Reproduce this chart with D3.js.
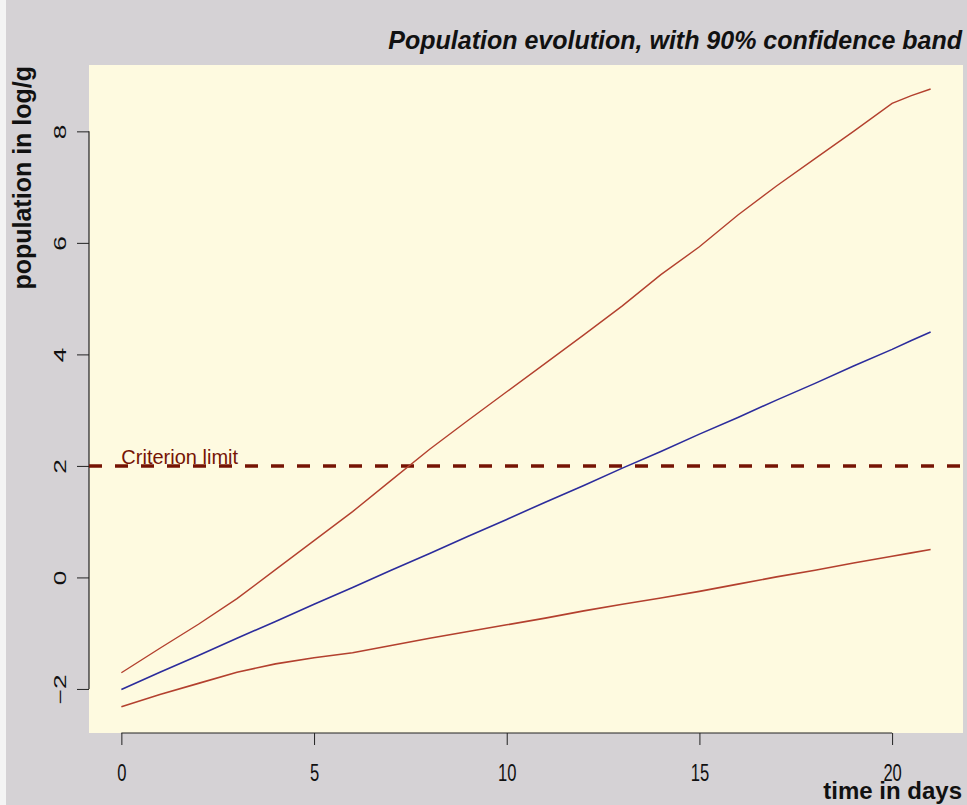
<!DOCTYPE html>
<html>
<head>
<meta charset="utf-8">
<script src="https://d3js.org/d3.v7.min.js"></script>
<style>
  body { margin: 0; background: #d5d2d5; }
  svg { display: block; }
  .tick text { font-family: "Liberation Sans", Arial, sans-serif; fill: #111; }
</style>
</head>
<body>
<div id="chart"></div>
<script>
// days 0..21 (one reading per day, plus a half-day near the end of the upper band)
var days      = [0,1,2,3,4,5,6,7,8,9,10,11,12,13,14,15,16,17,18,19,20,20.5,21];
var upperBand = [-1.71,-1.27,-0.84,-0.38,0.14,0.66,1.18,1.74,2.30,2.82,3.33,3.84,4.35,4.87,5.43,5.93,6.50,7.02,7.51,8.00,8.50,8.64,8.76];
var meanLine  = [-2.01,-1.70,-1.40,-1.09,-0.79,-0.48,-0.18,0.13,0.43,0.74,1.04,1.35,1.65,1.96,2.26,2.57,2.87,3.18,3.48,3.79,4.09,4.25,4.40];
var lowerBand = [-2.32,-2.10,-1.90,-1.70,-1.55,-1.44,-1.35,-1.22,-1.09,-0.97,-0.85,-0.73,-0.60,-0.48,-0.37,-0.25,-0.12,0.01,0.13,0.26,0.38,0.44,0.50];
var xTicks = [0,5,10,15,20];
var yTicks = [-2,0,2,4,6,8];
var criterion = 2;

var width = 967, height = 805;
var margin = {top: 65, right: 4, bottom: 72, left: 89};
var w = width - margin.left - margin.right,
    h = height - margin.top - margin.bottom;

var svg = d3.select("#chart").append("svg")
    .attr("width", width)
    .attr("height", height);

svg.append("rect").attr("width", width).attr("height", height).attr("fill", "#d5d2d5");
svg.append("rect").attr("width", 6).attr("height", height).attr("fill", "#f4f4f4");

// R style 4% padding on both axes
var x = d3.scaleLinear().domain([-0.84, 21.84]).range([0, w]);
var y = d3.scaleLinear().domain([-2.79, 9.19]).range([h, 0]);

var g = svg.append("g")
    .attr("transform", "translate(" + margin.left + "," + margin.top + ")");

g.append("rect")
    .attr("width", w)
    .attr("height", h)
    .attr("fill", "#fefae0");

// x axis
var xAxis = g.append("g")
    .attr("transform", "translate(0," + h + ")")
    .call(d3.axisBottom(x).tickValues(xTicks).tickSize(12).tickSizeOuter(0));
xAxis.select(".domain").remove();
xAxis.append("line")
    .attr("x1", x(xTicks[0])).attr("x2", x(xTicks[xTicks.length - 1]))
    .attr("stroke", "#222").attr("stroke-width", 1.2);
xAxis.selectAll(".tick line").attr("stroke", "#222");
xAxis.selectAll(".tick text")
    .attr("dy", null)
    .attr("y", 0)
    .attr("transform", "translate(0,48) scale(0.72,1)")
    .style("font-size", "23px");

// y axis, labels parallel to the axis
var yAxis = g.append("g")
    .call(d3.axisLeft(y).tickValues(yTicks).tickSize(12).tickSizeOuter(0));
yAxis.select(".domain").remove();
yAxis.append("line")
    .attr("y1", y(yTicks[0])).attr("y2", y(yTicks[yTicks.length - 1]))
    .attr("stroke", "#222").attr("stroke-width", 1.2);
yAxis.selectAll(".tick line").attr("stroke", "#222");
yAxis.selectAll(".tick text")
    .attr("x", null).attr("dy", null)
    .attr("text-anchor", "middle")
    .attr("transform", "translate(-23,0) rotate(-90) scale(1.25,0.8)")
    .style("font-size", "21px");

// criterion limit
g.append("line")
    .attr("x1", 0).attr("x2", w)
    .attr("y1", y(criterion)).attr("y2", y(criterion))
    .attr("stroke", "#761404")
    .attr("stroke-width", 3.5)
    .attr("stroke-dasharray", "13,13");
g.append("text")
    .attr("x", x(0))
    .attr("y", y(criterion) - 2)
    .attr("fill", "#761404")
    .style("font-family", "'Liberation Sans', Arial, sans-serif")
    .style("font-size", "20px")
    .text("Criterion limit");

var line = function(vals) {
    return d3.line()
        .x(function(d, i) { return x(days[i]); })
        .y(function(d) { return y(d); })(vals);
};

g.append("path").attr("d", line(upperBand)).attr("fill", "none").attr("stroke", "#b3402e").attr("stroke-width", 1.4);
g.append("path").attr("d", line(lowerBand)).attr("fill", "none").attr("stroke", "#b3402e").attr("stroke-width", 1.6);
g.append("path").attr("d", line(meanLine)).attr("fill", "none").attr("stroke", "#2c2c9c").attr("stroke-width", 1.6);

// titles
svg.append("text")
    .attr("x", 962).attr("y", 49)
    .attr("text-anchor", "end")
    .style("font-family", "'Liberation Sans', Arial, sans-serif")
    .style("font-size", "25px")
    .style("font-weight", "bold")
    .style("font-style", "italic")
    .attr("fill", "#111")
    .text("Population evolution, with 90% confidence band");

svg.append("text")
    .attr("transform", "translate(31," + (margin.top + 1) + ") rotate(-90)")
    .attr("text-anchor", "end")
    .style("font-family", "'Liberation Sans', Arial, sans-serif")
    .style("font-size", "25px")
    .style("font-weight", "bold")
    .attr("fill", "#111")
    .text("population in log/g");

svg.append("text")
    .attr("x", 962).attr("y", 799)
    .attr("text-anchor", "end")
    .style("font-family", "'Liberation Sans', Arial, sans-serif")
    .style("font-size", "24px")
    .style("font-weight", "bold")
    .attr("fill", "#111")
    .text("time in days");
</script>
</body>
</html>
